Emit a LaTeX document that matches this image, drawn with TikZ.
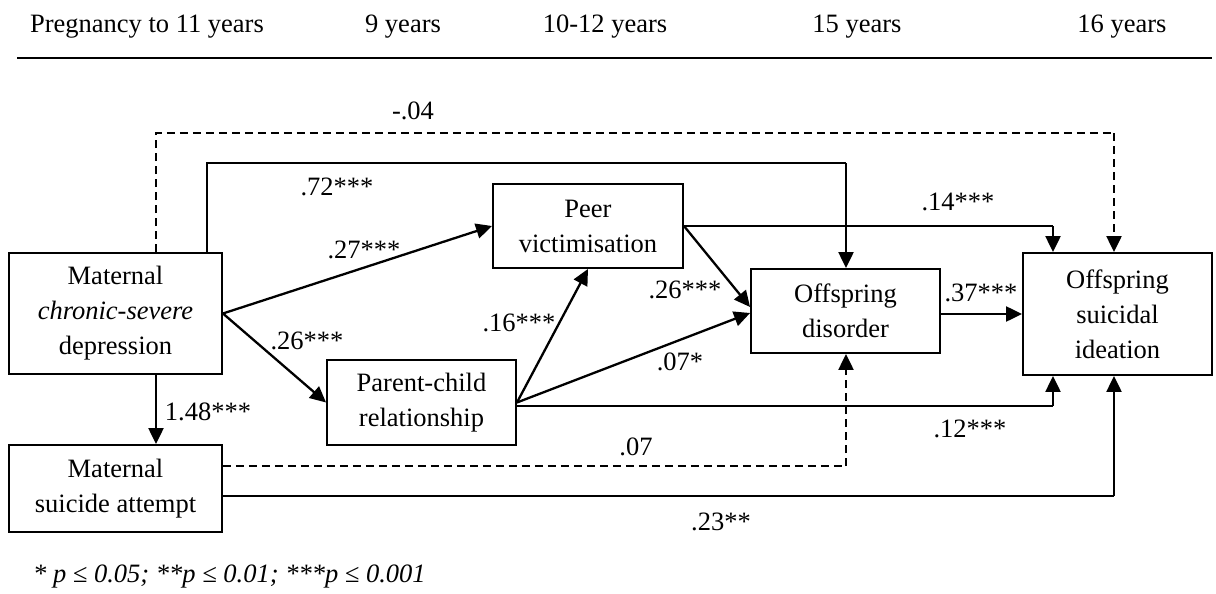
\documentclass[tikz,border=0pt]{standalone}
\usepackage{fontspec}
\setmainfont{Liberation Serif}
\usetikzlibrary{arrows.meta}
\tikzset{
  vbox/.style={draw, line width=1.9pt, inner sep=0pt, align=center,
    font=\fontsize{26.5}{35}\selectfont},
  lbl/.style={inner sep=0pt, font=\fontsize{26.5}{32}\selectfont},
  hdr/.style={inner sep=0pt, anchor=base, font=\fontsize{26.5}{32}\selectfont},
  headarrow/.style={-{Triangle[length=16pt,width=15pt]}},
  arr/.style={line width=2.3pt, headarrow},
  hline/.style={line width=1.8pt},
  drop/.style={line width=2.3pt, headarrow},
  brk/.style={dash pattern=on 8pt off 5pt}
}
\begin{document}
\begin{tikzpicture}[x=1pt,y=-1pt]
\useasboundingbox (0,0) rectangle (1216,594);

% time line header
\node[hdr] (h1) at (147,33) {Pregnancy to 11 years};
\node[hdr] (h2) at (403,33) {9 years};
\node[hdr] (h3) at (605,33) {10-12 years};
\node[hdr] (h4) at (857,33) {15 years};
\node[hdr] (h5) at (1122,33) {16 years};
\coordinate (ruleL) at (17,58);
\coordinate (ruleR) at (1212,58);
\draw[line width=2.2pt] (ruleL) -- (ruleR);

% variables
\node[vbox, minimum width=213pt, minimum height=121pt] (A) at (115.5,313.5)
  {Maternal\\\textit{chronic-severe}\\depression};
\node[vbox, minimum width=213pt, minimum height=87pt] (B) at (115.5,488.5)
  {Maternal\\suicide attempt};
\node[vbox, minimum width=190pt, minimum height=84pt] (V) at (588,226)
  {Peer\\victimisation};
\node[vbox, minimum width=189pt, minimum height=85pt] (R) at (421.5,402.5)
  {Parent-child\\relationship};
\node[vbox, minimum width=189pt, minimum height=84pt] (D) at (845.5,311)
  {Offspring\\disorder};
\node[vbox, minimum width=189pt, minimum height=122pt] (C) at (1117.5,314)
  {Offspring\\suicidal\\ideation};

% turning points of the routed paths
\coordinate (dTop) at (156,133);
\coordinate (dEnd) at (1114,133);
\coordinate (sTop) at (207,163);
\coordinate (sEnd) at (846,163);
\coordinate (vX) at (1053,0);
\coordinate (rX) at (1053,406);
\coordinate (bd) at (846,466);
\coordinate (bs) at (1114,496);

% depression -> ideation (dashed, top)
\draw[hline, brk] (A.north -| dTop) |- (dEnd);
\draw[drop, brk] (dEnd) -- (C.north -| dEnd);
% depression -> disorder
\draw[hline] (A.north -| sTop) |- (sEnd);
\draw[drop] (sEnd) -- (D.north -| sEnd);
% direct paths
\draw[arr] (A.east) -- (V.west);
\draw[arr] (A.east) -- (R.west);
\draw[arr] (A.south -| dTop) -- (B.north -| dTop);
\draw[arr] (R.east) -- (V.south);
\draw[arr] (R.east) -- ([yshift=-2pt]D.west);
\draw[arr] (V.east) -- ([yshift=4pt]D.west);
\draw[arr] (D.east |- C.west) -- (C.west);
% peer victimisation -> ideation
\draw[hline] (V.east) -- (V.east -| vX);
\draw[drop] (V.east -| vX) -- (C.north -| vX);
% parent-child -> ideation
\draw[hline] (R.east |- rX) -- (rX);
\draw[drop] (rX) -- (C.south -| rX);
% suicide attempt -> disorder (dashed)
\draw[hline, brk] (B.east |- bd) -- (bd);
\draw[drop, brk] (bd) -- (D.south -| bd);
% suicide attempt -> ideation
\draw[hline] (B.east |- bs) -- (bs);
\draw[drop] (bs) -- (C.south -| bs);

% coefficients
\node[lbl] (l1) at (413,111) {-.04};
\node[lbl] (l2) at (337,187) {.72***};
\node[lbl] (l3) at (364,250) {.27***};
\node[lbl] (l4) at (958,202) {.14***};
\node[lbl] (l5) at (685,290) {.26***};
\node[lbl] (l6) at (981,293) {.37***};
\node[lbl] (l7) at (519,323) {.16***};
\node[lbl] (l8) at (307,341) {.26***};
\node[lbl] (l9) at (680,362) {.07*};
\node[lbl] (l10) at (208,412) {1.48***};
\node[lbl] (l11) at (970,429) {.12***};
\node[lbl] (l12) at (636,447) {.07};
\node[lbl] (l13) at (721,522) {.23**};

% significance note
\node[lbl, anchor=west] (fn) at (33,577) {\itshape * p ≤ 0.05; **p ≤ 0.01; ***p ≤ 0.001};
\end{tikzpicture}
\end{document}
